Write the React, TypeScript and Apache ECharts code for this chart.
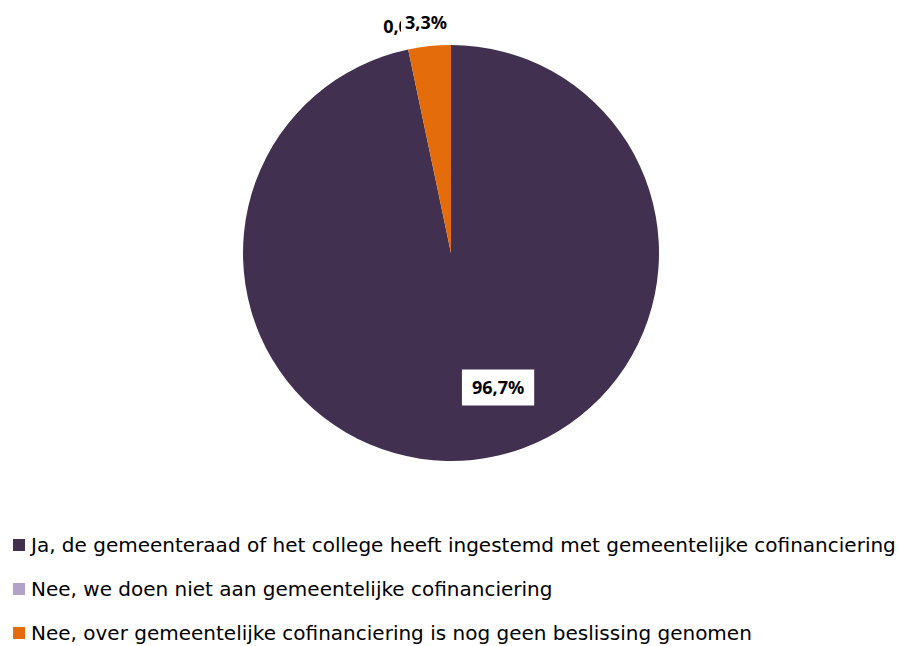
import React, { useEffect, useRef } from "react";
import * as echarts from "echarts";

const categories = [
  "Ja, de gemeenteraad of het college heeft ingestemd met gemeentelijke cofinanciering",
  "Nee, we doen niet aan gemeentelijke cofinanciering",
  "Nee, over gemeentelijke cofinanciering is nog geen beslissing genomen",
];
const values = [96.7, 0.0, 3.3];
const colors = ["#41304F", "#B3A2C7", "#E46C0A"];

const FONT = "'Noto Sans', sans-serif";
const LEGEND_FONT = "'DejaVu Sans', sans-serif";

export default function App() {
  const ref = useRef<HTMLDivElement>(null);
  useEffect(() => {
    if (!ref.current) return;
    const chart = echarts.init(ref.current, undefined, { renderer: "svg" });
    const fmt = (p: any) => Number(p.value).toFixed(1).replace(".", ",") + "%";
    chart.setOption({
      animation: false,
      backgroundColor: "#ffffff",
      legend: {
        orient: "vertical",
        left: 13,
        top: 535,
        padding: 0,
        icon: "rect",
        itemWidth: 12,
        itemHeight: 12,
        itemGap: 24,
        textStyle: {
          fontFamily: LEGEND_FONT,
          fontSize: 20,
          lineHeight: 20,
          color: "#000",
          padding: [0, 0, 0, 1],
        },
        data: categories,
      },
      series: [
        {
          type: "pie",
          center: [451, 253],
          radius: [0, 208],
          startAngle: 90,
          clockwise: true,
          avoidLabelOverlap: false,
          itemStyle: { borderWidth: 0 },
          label: {
            show: true,
            position: "outside",
            formatter: fmt,
            fontFamily: FONT,
            fontSize: 18,
            fontWeight: "bold",
            color: "#000",
            backgroundColor: "#fff",
            padding: [4, 4],
          },
          labelLine: { show: false, length: 5, length2: 0 },
          labelLayout: (params: any) => {
            if (params.dataIndex === 0) return { dx: 36, dy: 28 };
            if (params.dataIndex === 1) return { dx: 27, dy: -19 };
            return { dx: 27, dy: -19 };
          },
          data: categories.map((name, i) => ({
            name,
            value: values[i],
            itemStyle: { color: colors[i] },
            label:
              i === 0
                ? { position: "inside", padding: [9, 10] }
                : undefined,
          })),
        },
      ],
    });
    return () => chart.dispose();
  }, []);
  return (
    <div
      ref={ref}
      style={{ position: "absolute", left: 0, top: 0, width: 901, height: 646 }}
    />
  );
}
